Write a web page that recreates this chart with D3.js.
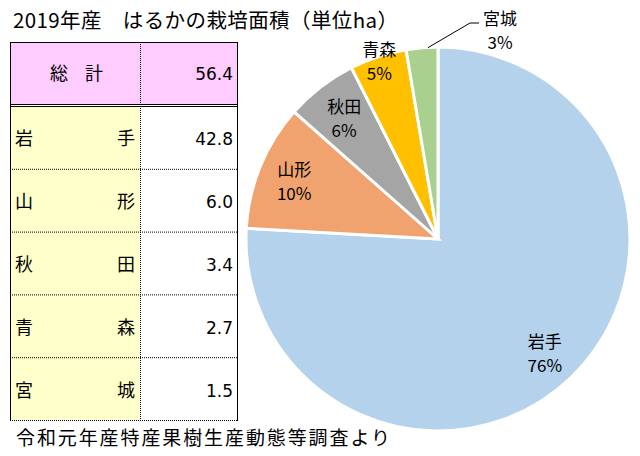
<!DOCTYPE html>
<html><head><meta charset="utf-8">
<script src="https://cdn.jsdelivr.net/npm/d3@7"></script>
<style>
html,body{margin:0;padding:0;background:#fff;}
svg{display:block;}
</style>
</head><body>
<svg id="c" width="640" height="456"></svg>
<script>
const titleText = "2019年産　はるかの栽培面積（単位ha）";
const footerText = "令和元年産特産果樹生産動態等調査より";
const totalLabel = ["総", "計"];
const totalValue = "56.4";
const prefectures = ["岩手", "山形", "秋田", "青森", "宮城"];
const areas = [42.8, 6.0, 3.4, 2.7, 1.5];
const areaLabels = ["42.8", "6.0", "3.4", "2.7", "1.5"];
const percents = ["76%", "10%", "6%", "5%", "3%"];
const colors = ["#B4D2EB", "#F0A36E", "#A5A5A5", "#FFC000", "#A9D08E"];

const svg = d3.select("#c");
const jp = "'Noto Sans CJK JP', 'Noto Sans', sans-serif";

// title
svg.append("text").attr("x", 13).attr("y", 28)
  .attr("font-family", jp).attr("font-size", 20.5).attr("letter-spacing", 0.4).attr("fill", "#000")
  .text(titleText);

// table
const tx0 = 10, tx1 = 237, tcol = 140;
const headTop = 42, headBot = 104, rowTop = 106, rowBot = 420;
const yRow = d3.scaleBand().domain(d3.range(prefectures.length)).range([rowTop, rowBot]);
const tg = svg.append("g");
tg.append("rect").attr("x", tx0).attr("y", headTop).attr("width", tx1 - tx0).attr("height", headBot - headTop).attr("fill", "#FFCCFF");
tg.append("rect").attr("x", tx0).attr("y", rowTop).attr("width", tcol - tx0).attr("height", rowBot - rowTop).attr("fill", "#FFFFCC");
tg.selectAll("line.rowsep").data(d3.range(1, prefectures.length)).join("line")
  .attr("x1", tx0).attr("x2", tx1)
  .attr("y1", d => yRow(d) + 0.5).attr("y2", d => yRow(d) + 0.5)
  .attr("stroke", "#000").attr("stroke-width", 1).attr("stroke-dasharray", "1,1");
tg.append("line").attr("x1", tcol + 0.5).attr("x2", tcol + 0.5).attr("y1", headTop).attr("y2", rowBot)
  .attr("stroke", "#000").attr("stroke-dasharray", "1,1");
tg.append("line").attr("x1", tx0).attr("x2", tx1).attr("y1", rowBot + 0.5).attr("y2", rowBot + 0.5)
  .attr("stroke", "#000").attr("stroke-dasharray", "1,1");
tg.append("line").attr("x1", tx0).attr("x2", tx1 + 0.5).attr("y1", headTop + 0.5).attr("y2", headTop + 0.5).attr("stroke", "#000");
tg.append("line").attr("x1", tx0).attr("x2", tx1).attr("y1", headBot + 0.5).attr("y2", headBot + 0.5).attr("stroke", "#000");
tg.append("line").attr("x1", tx0).attr("x2", tx1).attr("y1", rowTop + 0.5).attr("y2", rowTop + 0.5).attr("stroke", "#000");
tg.append("line").attr("x1", tx0 + 0.5).attr("x2", tx0 + 0.5).attr("y1", headTop).attr("y2", rowBot + 1).attr("stroke", "#000");
tg.append("line").attr("x1", tx1 + 0.5).attr("x2", tx1 + 0.5).attr("y1", headTop).attr("y2", rowBot + 1).attr("stroke", "#000");

const cellFont = 18;
const numFont = "'DejaVu Sans', 'Liberation Sans', sans-serif";
tg.append("text").attr("x", 50).attr("y", (headTop + headBot) / 2 + 7)
  .attr("font-family", jp).attr("font-size", cellFont).attr("fill", "#000").text(totalLabel[0]);
tg.append("text").attr("x", 85).attr("y", (headTop + headBot) / 2 + 7)
  .attr("font-family", jp).attr("font-size", cellFont).attr("fill", "#000").text(totalLabel[1]);
tg.append("text").attr("x", 233).attr("y", (headTop + headBot) / 2 + 7).attr("text-anchor", "end")
  .attr("font-family", numFont).attr("font-size", 17).attr("fill", "#000").text(totalValue);

prefectures.forEach((p, i) => {
  const cy = yRow(i) + yRow.bandwidth() / 2 + 8;
  tg.append("text").attr("x", 15).attr("y", cy).attr("font-family", jp).attr("font-size", cellFont).attr("fill", "#000").text(p[0]);
  tg.append("text").attr("x", 135).attr("y", cy).attr("text-anchor", "end").attr("font-family", jp).attr("font-size", cellFont).attr("fill", "#000").text(p[1]);
  tg.append("text").attr("x", 233).attr("y", cy).attr("text-anchor", "end")
    .attr("font-family", numFont).attr("font-size", 17).attr("fill", "#000").text(areaLabels[i]);
});

// footer
svg.append("text").attr("x", 16).attr("y", 445)
  .attr("font-family", jp).attr("font-size", 19).attr("letter-spacing", 1.9).attr("fill", "#000")
  .text(footerText);

// pie
const cx = 438, cy = 239, R = 192;
const pie = d3.pie().sort(null).startAngle(0).endAngle(2 * Math.PI).value(d => d);
const arcs = pie(areas);
const arc = d3.arc().innerRadius(0).outerRadius(R);
const pg = svg.append("g").attr("transform", `translate(${cx},${cy})`);
pg.selectAll("path").data(arcs).join("path")
  .attr("d", arc).attr("fill", (d, i) => colors[i])
  .attr("stroke", "#fff").attr("stroke-width", 3).attr("stroke-linejoin", "miter");

const labelR = [0.81, 0.81, 0.80, 0.98, null];
const lf = 17;
arcs.forEach((a, i) => {
  let x, y;
  const m = (a.startAngle + a.endAngle) / 2;
  if (labelR[i] !== null) {
    x = Math.sin(m) * R * labelR[i];
    y = -Math.cos(m) * R * labelR[i];
  } else {
    x = 500 - cx; y = 29 - cy;
    const ax = Math.sin(m) * R, ay = -Math.cos(m) * R;
    pg.append("polyline").attr("points", `${ax + 6},${ay} ${x - 30},${y - 6} ${x - 21},${y - 6}`)
      .attr("fill", "none").attr("stroke", "#000").attr("stroke-width", 1);
  }
  pg.append("text").attr("x", x).attr("y", y - 4).attr("text-anchor", "middle")
    .attr("font-family", jp).attr("font-size", lf).attr("fill", "#000").text(prefectures[i]);
  pg.append("text").attr("x", x).attr("y", y + 20).attr("text-anchor", "middle")
    .attr("font-family", jp).attr("font-size", lf).attr("fill", "#000").text(percents[i]);
});
</script>
</body></html>
